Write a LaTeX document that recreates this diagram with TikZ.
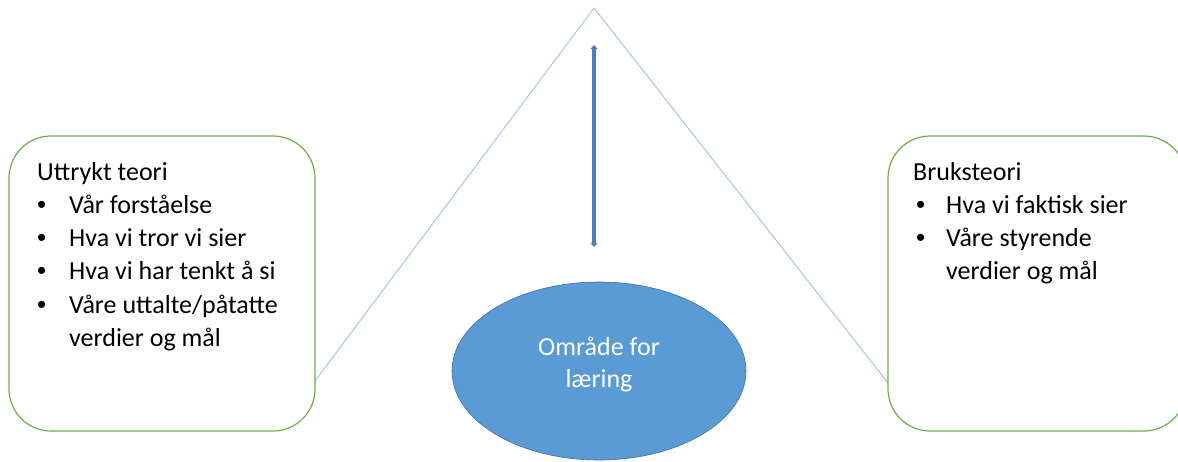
\documentclass[tikz,border=0pt]{standalone}
\usepackage{fontspec}
\setmainfont{Carlito}
\newfontfamily\bulletfont{Liberation Sans}
\usetikzlibrary{arrows.meta,shapes.geometric}
\definecolor{boxgreen}{HTML}{70AD47}
\definecolor{lineblue}{HTML}{9DC3E6}
\definecolor{fillblue}{HTML}{5B9BD5}
\definecolor{edgeblue}{HTML}{41719C}
\definecolor{arrowblue}{HTML}{4F7FB8}
\tikzset{
  roundbox/.style={draw=boxgreen, line width=1.2pt, rounded corners=42pt, fill=white, inner sep=0pt},
  boxtext/.style={anchor=north west, inner sep=0pt, align=left, font=\fontsize{26}{33.2}\selectfont, text=black},
  sideline/.style={draw=lineblue, line width=0.9pt},
  dblarrow/.style={draw=arrowblue, line width=3.2pt, {Triangle[width=7pt,length=4pt]}-{Triangle[width=7pt,length=4pt]}},
  learnarea/.style={ellipse, draw=edgeblue, line width=0.6pt, fill=fillblue, minimum width=294pt, minimum height=178pt, inner sep=0pt},
  learntext/.style={inner sep=0pt, text=white, align=center, font=\fontsize{26}{32}\selectfont},
}
\newcommand{\blt}[2][32pt]{\makebox[#1][l]{\bulletfont\textbullet}#2}
\begin{document}
\begin{tikzpicture}[x=1pt,y=-1pt]
\useasboundingbox (0,0) rectangle (1178,461);
\fill[white] (0,0) rectangle (1178,461);
% triangle lines
\coordinate (apex) at (594,8);
\coordinate (lend) at (315,381);
\coordinate (rend) at (888,383);
\draw[sideline] (lend) -- (apex) -- (rend);
% boxes
\node[roundbox, minimum width=306pt, minimum height=295pt] (lbox) at (162,283.5) {};
\node[roundbox, minimum width=298pt, minimum height=295pt] (rbox) at (1037,283.5) {};
\node[boxtext] (ltext) at (37,162) {Uttrykt teori\\
\blt{Vår forståelse}\\
\blt{Hva vi tror vi sier}\\
\blt{Hva vi har tenkt å si}\\
\blt{Våre uttalte/påtatte}\\
\hspace*{32pt}verdier og mål};
\node[boxtext] (rtext) at (913,162) {Bruksteori\\
\hspace*{3pt}\blt[30pt]{Hva vi faktisk sier}\\
\hspace*{3pt}\blt[30pt]{Våre styrende}\\
\hspace*{33pt}verdier og mål};
% arrow
\coordinate (atop) at (594,45);
\coordinate (abot) at (594,247);
\draw[dblarrow] (atop) -- (abot);
% ellipse
\node[learnarea] (learn) at (599,371) {};
\node[learntext] (learnlabel) at (599,365) {Område for\\læring};
\end{tikzpicture}
\end{document}
